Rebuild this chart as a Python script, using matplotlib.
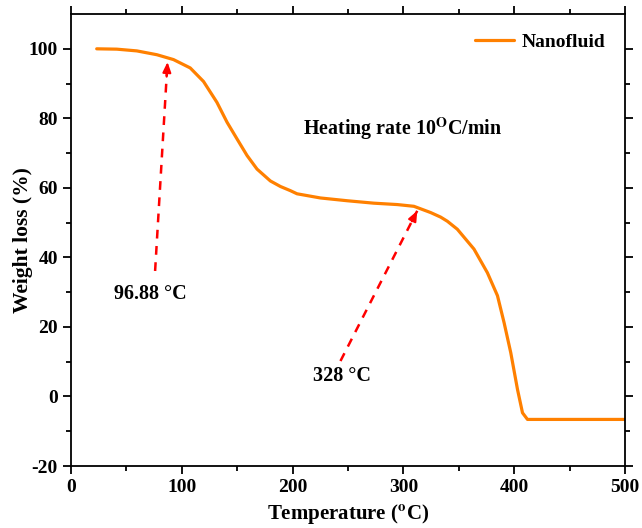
"""
TGA curve of the nanofluid: weight loss vs temperature,
with the two onset points marked by dashed red arrows.
"""

import matplotlib
matplotlib.use("Agg")
import matplotlib.pyplot as plt


# curve
temperature = [23.2, 41.3, 59.4, 77.5, 92.5, 107.6, 119.6, 131.7, 140.8, 149.8,
               158.9, 167.9, 179.9, 189, 198, 204, 225.1, 249.3, 273.3, 294.5,
               309.5, 324.6, 333.6, 339.7, 348.7, 363.7, 375.8, 384.9, 390.9,
               396.9, 403, 407.5, 412, 424, 500]
weight_loss = [100.0, 99.9, 99.4, 98.3, 96.9, 94.5, 90.6, 84.6, 78.9, 74.1,
               69.3, 65.4, 62.0, 60.4, 59.2, 58.3, 57.1, 56.3, 55.6, 55.2,
               54.7, 52.9, 51.6, 50.4, 48.1, 42.4, 35.6, 29.0, 21.2,
               12.6, 2.0, -4.7, -6.6, -6.6, -6.6]

# annotations: (label, arrow tail, arrow tip, label position)
onset_labels = ["96.88 °C", "328 °C"]
arrow_tails = [(75.9, 36.1), (243.2, 10.2)]
arrow_tips = [(87.1, 96.2), (312.5, 53.4)]
label_pos = [(71.4, 29.4), (244.7, 5.9)]

x_ticks = [0, 100, 200, 300, 400, 500]
y_ticks = [-20, 0, 20, 40, 60, 80, 100]

orange = "#ff8000"

plt.rcParams["font.family"] = ["Liberation Serif", "DejaVu Serif"]
plt.rcParams["font.weight"] = "bold"
plt.rcParams["mathtext.fontset"] = "stix"
plt.rcParams["axes.unicode_minus"] = False


def main():
    fig = plt.figure(figsize=(6.42, 5.28), dpi=100)
    ax = fig.add_axes([0.1106, 0.1174, 0.8629, 0.856])

    ax.plot(temperature, weight_loss, color=orange, lw=2.3, label="Nanofluid",
            solid_joinstyle="round", solid_capstyle="round")

    # dashed red arrows with a filled head
    for tail, tip, lab, pos in zip(arrow_tails, arrow_tips, onset_labels, label_pos):
        ax.plot([tail[0], tip[0]], [tail[1], tip[1]], color="red", lw=1.8,
                linestyle=(0, (3.5, 3)))
        dx = (tip[0] - tail[0]) * 0.07
        dy = (tip[1] - tail[1]) * 0.07
        ax.annotate("", xy=tip, xytext=(tip[0] - dx, tip[1] - dy),
                    arrowprops=dict(arrowstyle="-|>,head_length=0.6,head_width=0.25",
                                    color="red", lw=1.5, shrinkA=0, shrinkB=0))
        ax.text(pos[0], pos[1], lab, ha="center", va="center",
                fontsize=14.5, fontweight="bold")

    ax.text(299, 77, r"Heating rate 10$^{\mathbf{O}}$C/min", ha="center",
            va="center", fontsize=14.4, fontweight="bold")

    ax.set_xlim(0, 500)
    ax.set_ylim(-20, 110)
    ax.set_xticks(x_ticks)
    ax.set_yticks(y_ticks)
    ax.set_xticks(range(50, 500, 100), minor=True)
    ax.set_yticks(range(-10, 110, 20), minor=True)

    ax.tick_params(which="both", labelsize=14, width=1.3)
    ax.tick_params(which="major", length=6)
    ax.tick_params(which="minor", length=3.5)
    ax.tick_params(which="both", top=True, right=True)
    for spine in ax.spines.values():
        spine.set_linewidth(1.3)

    ax.set_xlabel(r"Temperature ($^{\mathbf{o}}$C)", fontsize=15,
                  fontweight="bold", labelpad=4)
    ax.set_ylabel("Weight loss (%)", fontsize=15.5, fontweight="bold", labelpad=-3)

    ax.legend(loc="upper right", frameon=False, handlelength=2.0,
              handletextpad=0.4, borderaxespad=0.6,
              prop={"weight": "bold", "size": 14})

    fig.savefig("out.png", dpi=100)


if __name__ == "__main__":
    main()
